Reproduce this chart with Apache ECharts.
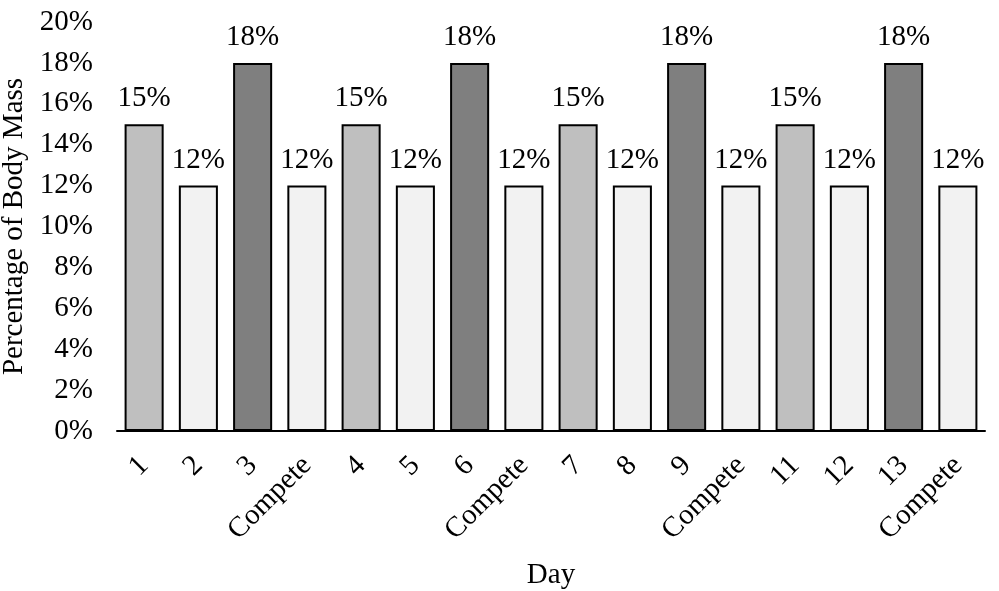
<!DOCTYPE html>
<html>
<head>
<meta charset="utf-8">
<script src="https://cdn.jsdelivr.net/npm/echarts@6/dist/echarts.min.js"></script>
<style>
html,body{margin:0;padding:0;background:#fff;}
#main{width:999px;height:591px;}
</style>
</head>
<body>
<div id="main"></div>
<script>
var days = ['1','2','3','Compete','4','5','6','Compete','7','8','9','Compete','11','12','13','Compete'];
var percent = [15,12,18,12,15,12,18,12,15,12,18,12,15,12,18,12];
var yTicks = [0,2,4,6,8,10,12,14,16,18,20];

// bar shade by value
function shade(v){
  if (v >= 18) return '#7f7f7f';
  if (v >= 15) return '#bfbfbf';
  return '#f2f2f2';
}

var font = 'Liberation Serif';
var fs = 29;
var chart = echarts.init(document.getElementById('main'));
chart.setOption({
  animation: false,
  grid: { left: 117, right: 14, top: 22, bottom: 160, outerBoundsMode: 'none', containLabel: false },
  xAxis: {
    type: 'category',
    data: days,
    name: 'Day',
    nameLocation: 'middle',
    nameGap: 130,
    nameTextStyle: { fontFamily: font, fontSize: fs, color: '#000' },
    axisLine: { lineStyle: { color: '#000', width: 2 } },
    axisTick: { show: false },
    axisLabel: { interval: 0, rotate: 45, fontFamily: font, fontSize: fs, color: '#000', margin: 30 }
  },
  yAxis: {
    type: 'value',
    min: yTicks[0],
    max: yTicks[yTicks.length - 1],
    interval: 2,
    name: 'Percentage of Body Mass',
    nameLocation: 'middle',
    nameGap: 85,
    nameTextStyle: { fontFamily: font, fontSize: fs, color: '#000' },
    axisLine: { show: false },
    axisTick: { show: false },
    splitLine: { show: false },
    axisLabel: { fontFamily: font, fontSize: fs, color: '#000', margin: 24, formatter: '{value}%' }
  },
  series: [{
    type: 'bar',
    barCategoryGap: '28%',
    data: percent.map(function(v){
      return { value: v, itemStyle: { color: shade(v), borderColor: '#000', borderWidth: 2 } };
    }),
    label: { show: true, position: 'top', distance: 11, fontFamily: font, fontSize: fs, color: '#000', formatter: '{c}%' }
  }]
});
</script>
</body>
</html>
